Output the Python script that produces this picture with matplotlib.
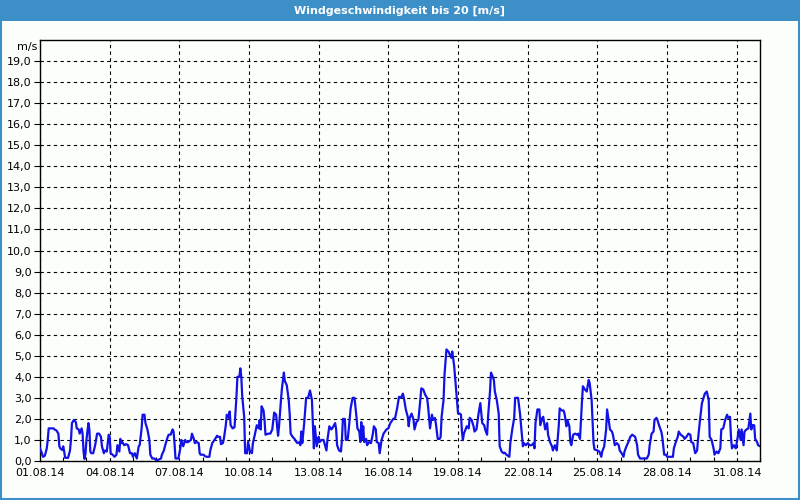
import matplotlib
matplotlib.use("Agg")
import matplotlib.pyplot as plt
import matplotlib.dates as mdates
from matplotlib.patches import Rectangle
from matplotlib.ticker import FixedLocator, FuncFormatter
import numpy as np
import pandas as pd

# hours since 01.08.2014 00:00 and wind speed [m/s]
hours = [0, 2, 3, 5, 7, 8, 9, 14, 15, 17, 19, 20, 21, 23, 24, 25, 26, 29, 31, 32,
         33, 35, 37, 38, 40, 41, 43, 44, 45, 46, 47, 48, 50, 51, 52, 53, 55, 57, 59, 61,
         63, 64, 66, 67, 69, 71, 72, 73, 75, 77, 79, 80, 82, 83, 84, 85, 87, 89, 91, 93,
         95, 96, 98, 100, 102, 103, 105, 106, 108, 109, 110, 111, 113, 114, 116, 118, 120, 122, 125, 126,
         128, 130, 132, 133, 135, 137, 138, 139, 140, 143, 145, 146, 148, 150, 151, 153, 156, 157, 159, 160,
         162, 164, 165, 166, 169, 170, 172, 175, 176, 178, 181, 183, 184, 186, 187, 189, 190, 192, 193, 195,
         196, 197, 199, 201, 203, 204, 206, 207, 208, 209, 211, 212, 214, 215, 217, 219, 220, 222, 224, 226,
         227, 228, 229, 231, 232, 233, 236, 238,
         240, 242, 244, 245, 246, 247, 249, 250, 252, 253, 255, 257, 258, 259, 261, 263, 265, 266, 268, 269,
         270, 271, 273, 275, 277, 279, 281, 282, 283, 284, 286, 288, 289, 291, 293, 296, 297, 299, 301, 302,
         305, 306, 307, 309, 311, 312, 313, 315, 316, 318, 319, 321, 323, 325, 327, 328, 330, 331, 332, 333,
         334, 335, 337, 338, 340, 342, 344, 345, 347, 348, 350, 351, 353, 355, 358, 360, 362, 365, 367, 369,
         371, 373, 375, 376, 378, 380, 381, 382, 384, 386, 387, 389, 391, 393, 394, 396, 398, 400, 401, 403,
         405, 406, 408, 409, 411, 413, 414, 415, 417, 418, 420, 422, 425, 426, 428, 430, 431, 432, 434, 435,
         436, 437, 438, 441, 443, 444, 446, 448, 449, 451, 453, 455, 456, 457, 459, 460, 462, 463, 465, 466,
         467, 469, 470, 472, 474, 475, 477, 479, 480, 482, 485, 486, 488, 490, 491, 494,
         496, 499, 500, 502, 504, 506, 508, 510, 511, 512, 514, 516, 517, 519, 520, 522, 524, 525, 527, 529,
         530, 532, 534, 536, 537, 539, 541, 542, 544, 545, 547, 548, 549, 551, 553, 555, 556, 558, 560, 561,
         563, 565, 567, 568, 570, 572, 573, 576, 578, 580, 581, 583, 585, 586, 588, 589, 591, 592, 594, 596,
         598, 599, 601, 603, 604, 606, 608, 610, 612, 615, 617, 618, 620, 623, 627, 629, 630, 632, 634, 635,
         637, 638, 640, 642, 643, 645, 647, 648, 651, 654, 655, 657, 659, 660, 662, 665, 666, 668, 670, 672,
         673, 675, 677, 679, 680, 682, 684, 685, 687, 689, 691, 692, 694, 696, 697, 699, 701, 703, 704, 706,
         708, 710, 711, 713, 714, 715, 717, 719, 721, 722, 724, 725, 727, 728, 730, 732, 734, 735, 736, 738,
         739, 741, 742, 744]
wind = [0.6, 0.37, 0.2, 0.25, 0.6, 1.0, 1.55, 1.55, 1.5, 1.45, 1.3, 0.7, 0.6, 0.52, 0.7, 0.45, 0.15, 0.15, 0.5, 1.0,
        1.8, 1.95, 1.85, 1.55, 1.5, 1.3, 1.55, 1.3, 0.45, 0.1, 0.35, 1.0, 1.8, 1.5, 0.45, 0.37, 0.37, 0.75, 1.3, 1.3,
        1.15, 0.7, 0.37, 0.5, 0.45, 1.25, 1.15, 0.37, 0.3, 0.2, 0.3, 0.75, 0.45, 1.05, 0.85, 0.9, 0.75, 0.8, 0.75, 0.37,
        0.37, 0.2, 0.37, 0.12, 0.7, 0.75, 1.55, 2.2, 2.2, 1.8, 1.65, 1.5, 1.0, 0.3, 0.12, 0.12, 0.05, 0.05, 0.12, 0.3,
        0.5, 0.85, 1.15, 1.25, 1.25, 1.5, 1.4, 0.85, 0.12, 0.12, 0.6, 1.0, 0.7, 1.0, 0.9, 0.9, 1.0, 1.3, 1.05, 0.85,
        0.9, 0.85, 0.37, 0.3, 0.3, 0.25, 0.2, 0.2, 0.5, 0.85, 1.05, 1.2, 1.15, 1.15, 0.8, 0.85, 1.05, 1.7, 2.2, 2.05,
        2.35, 1.7, 1.55, 1.6, 3.05, 4.0, 4.0, 4.4, 4.0, 3.05, 2.1, 0.37, 0.37, 0.9, 0.45, 0.37, 0.85, 1.25, 1.7, 1.55,
        1.95, 1.5, 2.6, 2.4, 1.95, 1.25, 1.3, 1.3,
        1.5, 2.3, 2.2, 1.65, 1.2, 1.65, 2.9, 3.45, 4.2, 3.8, 3.6, 2.9, 2.25, 1.3, 1.15, 1.05, 0.9, 0.85, 0.9, 0.75,
        1.4, 0.85, 1.8, 3.0, 3.0, 3.35, 2.9, 1.7, 0.6, 1.65, 0.7, 1.15, 0.9, 1.0, 1.0, 0.5, 1.0, 1.65, 1.5, 1.55,
        1.8, 1.5, 0.75, 0.5, 0.45, 1.0, 2.0, 2.0, 1.0, 1.05, 1.5, 2.5, 3.0, 3.0, 2.1, 1.55, 1.4, 0.9, 1.85, 1.05,
        1.65, 0.9, 1.05, 0.75, 0.9, 0.85, 1.3, 1.65, 1.5, 0.9, 0.85, 0.37, 1.0, 1.3, 1.5, 1.55, 1.8, 2.0, 2.05, 2.5,
        3.05, 3.0, 3.2, 3.0, 2.45, 2.1, 1.65, 2.05, 2.25, 1.95, 1.5, 1.85, 1.95, 2.9, 3.45, 3.4, 3.15, 3.0, 2.6, 1.55,
        2.2, 1.95, 2.05, 1.8, 1.05, 1.05, 1.15, 2.1, 2.9, 4.1, 5.3, 5.2, 4.9, 5.2, 4.5, 3.4, 2.9, 2.25, 2.25, 2.2,
        1.4, 1.0, 1.3, 1.65, 1.55, 2.05, 1.95, 1.65, 1.4, 1.5, 2.2, 2.75, 2.25, 1.8, 1.7, 1.5, 1.25, 2.1, 3.3, 4.2,
        4.1, 3.85, 3.3, 2.9, 2.25, 0.7, 0.45, 0.37, 0.4, 0.3, 0.2, 0.85, 1.5, 2.05, 3.0, 3.0,
        2.25, 0.7, 0.85, 0.75, 0.85, 0.75, 0.75, 0.85, 0.6, 1.8, 2.45, 2.45, 1.7, 2.05, 2.1, 1.5, 1.8, 1.25, 0.9, 0.7,
        0.5, 0.75, 0.5, 1.65, 2.5, 2.4, 2.4, 2.25, 1.65, 1.95, 1.65, 0.9, 0.75, 1.25, 1.3, 1.25, 1.3, 1.05, 2.8, 3.55,
        3.4, 3.3, 3.85, 3.7, 2.9, 0.85, 0.55, 0.5, 0.45, 0.2, 0.45, 0.7, 1.5, 2.45, 1.8, 1.5, 1.4, 1.25, 0.75, 0.85,
        0.75, 0.5, 0.37, 0.2, 0.45, 0.7, 0.9, 1.15, 1.25, 1.15, 0.75, 0.3, 0.12, 0.12, 0.12, 0.3, 0.75, 1.3, 1.4, 1.95,
        2.05, 1.95, 1.65, 1.4, 1.15, 0.3, 0.3, 0.2, 0.2, 0.2, 0.6, 0.9, 1.15, 1.4, 1.25, 1.15, 1.05, 1.15, 1.3, 1.25,
        0.9, 0.85, 0.37, 0.5, 1.05, 1.95, 2.75, 2.9, 3.2, 3.3, 2.9, 1.15, 1.0, 0.6, 0.3, 0.45, 0.37, 0.6, 1.5, 1.55,
        1.95, 2.2, 2.05, 2.1, 1.15, 0.6, 0.75, 0.6, 1.15, 1.5, 1.0, 1.5, 0.75, 1.4, 1.5, 1.55, 2.25, 1.5, 1.7, 1.7,
        1.05, 0.9, 0.75, 0.7]

title = "Windgeschwindigkeit bis 20 [m/s]"
unit = "m/s"
start = pd.Timestamp("2014-08-01")
end = pd.Timestamp("2014-09-01")
times = start + pd.to_timedelta(hours, unit="h")
label_days = pd.date_range(start, "2014-08-31", freq="3D")

bar_col = "#3d8fc7"
bg = "#fcfefc"

fig = plt.figure(figsize=(8, 5), dpi=100, facecolor=bg)

# title bar and frame
fig.patches.append(Rectangle((0, 0.958), 1, 0.042, transform=fig.transFigure,
                             facecolor=bar_col, edgecolor="none", zorder=0))
fig.patches.append(Rectangle((0.001, 0.002), 0.998, 0.996, transform=fig.transFigure,
                             facecolor="none", edgecolor=bar_col, lw=1.5, zorder=5))
fig.text(0.5, 0.979, title, color="white", fontsize=8, fontweight="bold",
         ha="center", va="center")

ax = fig.add_axes([0.05, 0.078, 0.90, 0.842], facecolor=bg)
ax.plot(times, wind, color="#1212e6", lw=1.6, zorder=3)

ax.set_xlim(start, end)
ax.set_ylim(0, 20)

ax.yaxis.set_major_locator(FixedLocator(np.arange(0, 20)))
ax.yaxis.set_major_formatter(FuncFormatter(lambda v, p: f"{v:.1f}".replace(".", ",")))
ax.xaxis.set_major_locator(FixedLocator(mdates.date2num(label_days)))
ax.xaxis.set_major_formatter(mdates.DateFormatter("%d.%m.%y"))
ax.xaxis.set_minor_locator(mdates.DayLocator())

ax.grid(True, which="major", color="black", ls=(0, (3, 3)), lw=0.8)
ax.tick_params(axis="y", length=4, width=0.8, pad=2, labelsize=8)
ax.tick_params(axis="x", which="major", length=0, pad=5, labelsize=8)
ax.tick_params(axis="x", which="minor", direction="in", length=3, width=0.8)
for s in ax.spines.values():
    s.set_linewidth(1)
    s.set_color("black")

fig.text(0.047, 0.906, unit, fontsize=8, ha="right", va="center")

fig.savefig("out.png", dpi=100, facecolor=bg)
